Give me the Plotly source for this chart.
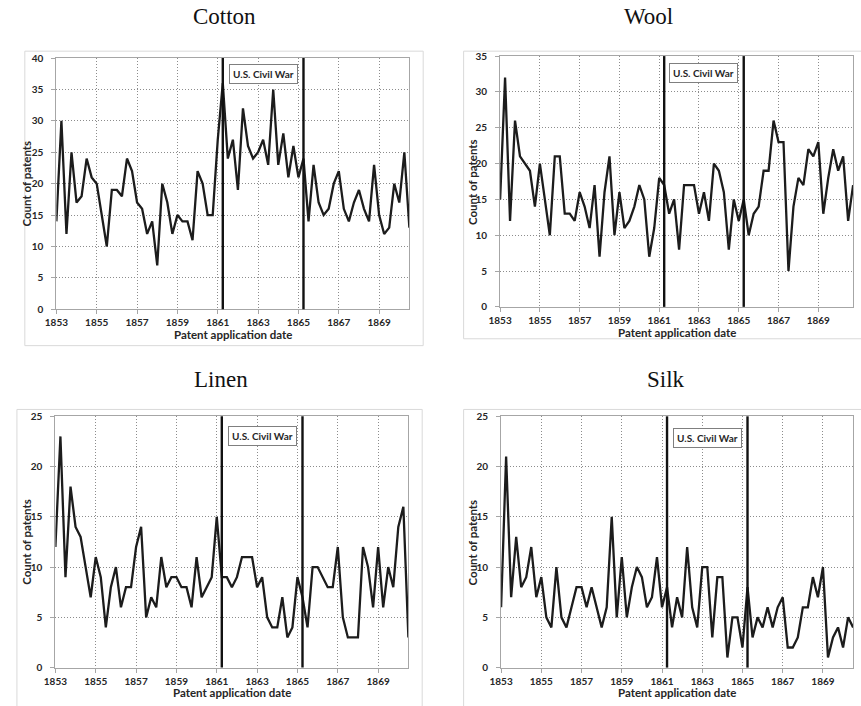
import plotly.graph_objects as go

W, H = 861, 706

# ---------------- data (quarterly counts, starting 1853 Q1) ----------------
start_year = 1853.0
cotton = [14, 30, 12, 25, 17, 18, 24, 21, 20, 15, 10, 19, 19, 18, 24, 22,
          17, 16, 12, 14, 7, 20, 17, 12, 15, 14, 14, 11, 22, 20, 15, 15,
          27, 36, 24, 27, 19, 32, 26, 24, 25, 27, 23, 35, 23, 28, 21, 26,
          21, 24, 14, 23, 17, 15, 16, 20, 22, 16, 14, 17, 19, 16, 14, 23,
          15, 12, 13, 20, 17, 25, 13]
wool = [15, 32, 12, 26, 21, 20, 19, 14, 20, 15, 10, 21, 21, 13, 13, 12,
        16, 14, 11, 17, 7, 16, 21, 10, 16, 11, 12, 14, 17, 15, 7, 11,
        18, 17, 13, 15, 8, 17, 17, 17, 13, 16, 12, 20, 19, 16, 8, 15,
        12, 15, 10, 13, 14, 19, 19, 26, 23, 23, 5, 14, 18, 17, 22, 21,
        23, 13, 18, 22, 19, 21, 12, 17]
linen = [12, 23, 9, 18, 14, 13, 10, 7, 11, 9, 4, 8, 10, 6, 8, 8,
         12, 14, 5, 7, 6, 11, 8, 9, 9, 8, 8, 6, 11, 7, 8, 9,
         15, 9, 9, 8, 9, 11, 11, 11, 8, 9, 5, 4, 4, 7, 3, 4,
         9, 7, 4, 10, 10, 9, 8, 8, 12, 5, 3, 3, 3, 12, 10, 6,
         12, 6, 10, 8, 14, 16, 3]
silk = [6, 21, 7, 13, 8, 9, 12, 7, 9, 5, 4, 10, 5, 4, 6, 8,
        8, 6, 8, 6, 4, 6, 15, 5, 11, 5, 8, 10, 9, 6, 7, 11,
        6, 8, 4, 7, 5, 12, 6, 4, 10, 10, 3, 9, 9, 1, 5, 5,
        2, 8, 3, 5, 4, 6, 4, 6, 7, 2, 2, 3, 6, 6, 9, 7,
        10, 1, 3, 4, 2, 5, 4]

panel_titles = ["Cotton", "Wool", "Linen", "Silk"]
series = [cotton, wool, linen, silk]
y_max = [40, 35, 25, 25]
x_end = [1870.5, 1870.75, 1870.5, 1870.5]
x_tick_years = [1853, 1855, 1857, 1859, 1861, 1863, 1865, 1867, 1869]
war_start, war_end = 1861.25, 1865.25
war_label = "U.S. Civil War"
y_title = "Count of patents"
x_title = "Patent application date"

# ---------------- layout geometry (pixels) ----------------
panels = [
    dict(px0=45, px1=403, py0=52, py1=308, box=(13, 45, 417, 345), title=(215, 10), xt=334, yt=15, ann=0.935),
    dict(px0=495, px1=853, py0=50, py1=305.5, box=(458, 45, 870, 338), title=(646, 10), xt=332, yt=467, ann=0.933),
    dict(px0=44, px1=402, py0=417, py1=673, box=(5, 410, 416, 715), title=(212, 379), xt=698, yt=15, ann=0.922),
    dict(px0=496, px1=853, py0=417, py1=673, box=(458, 410, 870, 715), title=(663, 379), xt=698, yt=467, ann=0.914),
]

def fx(px):
    return px / W

def fy(py):
    return 1 - py / H

SANS = "Lato, 'Open Sans', sans-serif"
TICK_FONT = dict(family=SANS, size=10, color="#262626")
LABEL_FONT = dict(family=SANS, size=11.5, color="#262626")
TITLE_FONT = dict(family="'Liberation Serif', 'DejaVu Serif', serif", size=23, color="#111111")

def b(s):
    return "<b>%s</b>" % s

fig = go.Figure()
layout = dict(
    width=W, height=H,
    margin=dict(l=0, r=0, t=0, b=0),
    paper_bgcolor="white", plot_bgcolor="white",
    showlegend=False,
)
shapes = []
annotations = []

for k, (p, vals) in enumerate(zip(panels, series)):
    n = "" if k == 0 else str(k + 1)
    xs = [start_year + i / 4 for i in range(len(vals))]
    fig.add_trace(go.Scatter(
        x=xs, y=vals, mode="lines",
        line=dict(color="#1c1c1c", width=2.3),
        xaxis="x" + n, yaxis="y" + n, hoverinfo="x+y",
    ))
    yticks = list(range(0, y_max[k] + 1, 5))
    layout["xaxis" + n] = dict(
        domain=[fx(p["px0"]), fx(p["px1"])],
        anchor="y" + n,
        range=[start_year, x_end[k]],
        tickvals=x_tick_years, ticktext=[b(v) for v in x_tick_years],
        tickfont=TICK_FONT,
        showgrid=True, gridcolor="#8c8c8c", griddash="1px,2px", gridwidth=1,
        showline=True, linecolor="#a6a6a6", linewidth=1, mirror=True,
        ticks="outside", ticklen=4, tickcolor="#a6a6a6",
        zeroline=False, fixedrange=True,
    )
    layout["yaxis" + n] = dict(
        domain=[fy(p["py1"]), fy(p["py0"])],
        anchor="x" + n,
        range=[0, y_max[k]],
        tickvals=yticks, ticktext=[b(v) for v in yticks],
        tickfont=TICK_FONT,
        showgrid=True, gridcolor="#8c8c8c", griddash="1px,2px", gridwidth=1,
        showline=True, linecolor="#a6a6a6", linewidth=1, mirror=True,
        ticks="outside", ticklen=4, tickcolor="#a6a6a6",
        ticklabelstandoff=6,
        zeroline=False, fixedrange=True,
    )
    # outer chart-area frame
    bx0, by0, bx1, by1 = p["box"]
    shapes.append(dict(type="rect", xref="paper", yref="paper",
                       x0=fx(bx0), x1=fx(bx1), y0=fy(by1), y1=fy(by0),
                       line=dict(color="#d9d9d9", width=1), layer="below"))
    # civil war lines
    for wx in (war_start, war_end):
        shapes.append(dict(type="line", xref="x" + n, yref="y" + n + " domain",
                           x0=wx, x1=wx, y0=0, y1=1,
                           line=dict(color="#111111", width=2.4)))
    # civil war label
    annotations.append(dict(
        x=(war_start + war_end) / 2, y=p["ann"], xref="x" + n, yref="y" + n + " domain",
        text=b(war_label), showarrow=False, font=dict(family=SANS, size=10, color="#262626"),
        bgcolor="white", bordercolor="#7f7f7f", borderwidth=1, borderpad=3,
        xanchor="center", yanchor="middle",
    ))
    # panel title
    tx, ty = p["title"]
    annotations.append(dict(x=fx(tx), y=fy(ty), xref="paper", yref="paper",
                            text=panel_titles[k], showarrow=False, font=TITLE_FONT,
                            xanchor="center", yanchor="middle"))
    # axis titles
    annotations.append(dict(x=fx((p["px0"] + p["px1"]) / 2), y=fy(p["xt"]), xref="paper", yref="paper",
                            text=b(x_title), showarrow=False, font=LABEL_FONT,
                            xanchor="center", yanchor="middle"))
    annotations.append(dict(x=fx(p["yt"]), y=fy((p["py0"] + p["py1"]) / 2), xref="paper", yref="paper",
                            text=b(y_title), showarrow=False, font=LABEL_FONT, textangle=-90,
                            xanchor="center", yanchor="middle"))

layout["shapes"] = shapes
layout["annotations"] = annotations
fig.update_layout(**layout)
fig.write_html("out.html", config={"displayModeBar": False},
               post_script="document.body.style.margin='0';document.body.style.overflow='hidden';")
